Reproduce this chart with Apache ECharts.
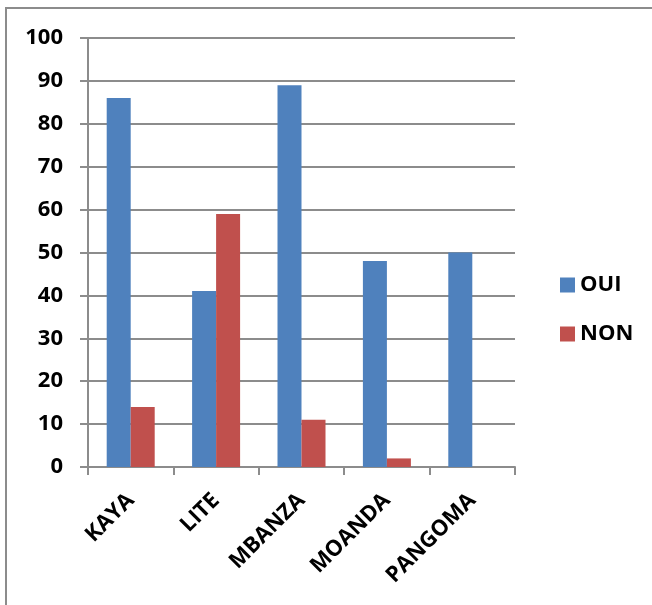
<!DOCTYPE html>
<html>
<head>
<meta charset="utf-8">
<script src="https://cdn.jsdelivr.net/npm/echarts@6/dist/echarts.min.js"></script>
<style>
html,body{margin:0;padding:0;background:#fff;overflow:hidden;}
#frame{position:absolute;left:5px;top:7px;width:700px;height:700px;border-left:2px solid #8c8c8c;border-top:2px solid #8c8c8c;}
#chart{position:absolute;left:0;top:0;width:652px;height:605px;}
</style>
</head>
<body>
<div id="frame"></div>
<div id="chart"></div>
<script>
const categories = ['KAYA', 'LITE', 'MBANZA', 'MOANDA', 'PANGOMA'];
const ouiValues = [86, 41, 89, 48, 50];
const nonValues = [14, 59, 11, 2, 0];
const yTicks = {min: 0, max: 100, interval: 10};

const font = '"Open Sans", Lato, sans-serif';
const chart = echarts.init(document.getElementById('chart'), null, {renderer: 'canvas'});
chart.setOption({
  backgroundColor: 'transparent',
  animation: false,
  grid: {left: 88, right: 137, top: 38, bottom: 138, containLabel: false},
  legend: {
    orient: 'vertical',
    left: 555,
    top: 269,
    itemWidth: 15,
    itemHeight: 15,
    itemGap: 27,
    icon: 'rect',
    textStyle: {fontFamily: font, fontWeight: 'bold', fontSize: 22, color: '#000', padding: [0, 0, 0, 0]},
    data: ['OUI', 'NON']
  },
  xAxis: {
    type: 'category',
    data: categories,
    axisLine: {lineStyle: {color: '#8c8c8c', width: 2}},
    axisTick: {show: true, length: 8, lineStyle: {color: '#8c8c8c', width: 2}, alignWithLabel: false},
    axisLabel: {rotate: 45, margin: 30, fontFamily: font, fontWeight: 'bold', fontSize: 22, color: '#000', interval: 0},
    splitLine: {show: false}
  },
  yAxis: {
    type: 'value',
    min: yTicks.min, max: yTicks.max, interval: yTicks.interval,
    axisLine: {show: true, lineStyle: {color: '#8c8c8c', width: 2}},
    axisTick: {show: true, length: 8, lineStyle: {color: '#8c8c8c', width: 2}},
    axisLabel: {margin: 25, fontFamily: font, fontWeight: 'bold', fontSize: 22, color: '#000'},
    splitLine: {show: true, lineStyle: {color: '#8c8c8c', width: 2}}
  },
  series: [
    {name: 'OUI', type: 'bar', data: ouiValues, barWidth: 24, barGap: '0%', itemStyle: {color: '#4F81BD'}},
    {name: 'NON', type: 'bar', data: nonValues, barWidth: 24, barGap: '0%', itemStyle: {color: '#C0504D'}}
  ]
});
</script>
</body>
</html>
